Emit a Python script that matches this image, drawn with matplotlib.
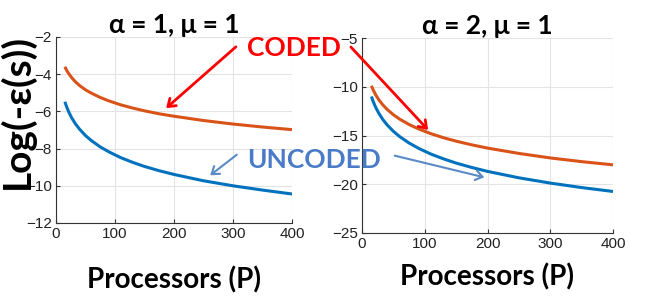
import numpy as np
import matplotlib.pyplot as plt
from matplotlib.patches import FancyArrowPatch

# processors
P = [15, 18, 22, 27, 33, 40, 50, 60, 75, 90, 110, 130, 150, 175, 200, 250, 300, 350, 400]

# alpha = 1, mu = 1
coded_a1 = [-3.60, -3.79, -3.99, -4.20, -4.41, -4.61, -4.84, -5.02, -5.25, -5.44,
            -5.65, -5.82, -5.97, -6.13, -6.26, -6.49, -6.68, -6.84, -6.98]
uncoded_a1 = [-5.48, -5.75, -6.06, -6.37, -6.67, -6.96, -7.30, -7.57, -7.91, -8.18,
              -8.49, -8.74, -8.96, -9.19, -9.39, -9.73, -10.00, -10.23, -10.44]

# alpha = 2, mu = 1
coded_a2 = [-9.90, -10.35, -10.85, -11.35, -11.85, -12.32, -12.87, -13.32, -13.87, -14.32,
            -14.82, -15.23, -15.58, -15.96, -16.29, -16.84, -17.30, -17.68, -18.01]
uncoded_a2 = [-11.00, -11.54, -12.14, -12.74, -13.34, -13.91, -14.57, -15.11, -15.77, -16.31,
              -16.91, -17.40, -17.83, -18.28, -18.68, -19.34, -19.88, -20.34, -20.74]

titles = ['α = 1, μ = 1', 'α = 2, μ = 1']
yticks = [np.arange(-12, -1, 2), np.arange(-25, -4, 5)]

RED = '#D95319'
BLUE = '#0072BD'
W, H = 653, 302

fig = plt.figure(figsize=(6.53, 3.02), dpi=100)
ax1 = fig.add_axes([56 / W, 1 - 223 / H, 236 / W, 186 / H])
ax2 = fig.add_axes([362 / W, 1 - 233 / H, 251 / W, 195 / H])

for ax, c, u, t, yt in [(ax1, coded_a1, uncoded_a1, titles[0], yticks[0]),
                        (ax2, coded_a2, uncoded_a2, titles[1], yticks[1])]:
    ax.plot(P, c, color=RED, lw=2.2, solid_capstyle='butt')
    ax.plot(P, u, color=BLUE, lw=2.2, solid_capstyle='butt')
    ax.set_xlim(0, 400)
    ax.set_ylim(yt[0], yt[-1])
    ax.set_xticks([0, 100, 200, 300, 400])
    ax.set_yticks(yt)
    ax.grid(True, color='#e3e3e3', lw=0.8)
    ax.set_axisbelow(True)
    for s in ['top', 'right']:
        ax.spines[s].set_visible(False)
    for s in ['left', 'bottom']:
        ax.spines[s].set_color('#333333')
        ax.spines[s].set_linewidth(0.8)
    ax.tick_params(direction='in', length=3, color='#333333', labelcolor='#222222', labelsize=11, pad=3)
    for lab in ax.get_xticklabels() + ax.get_yticklabels():
        lab.set_family('Liberation Sans')
    ax.set_title(t, fontsize=19, fontweight='bold', family='Lato', pad=2)

ax1.set_xlabel('Processors (P)', fontsize=20, fontweight='bold', family='Lato', labelpad=18)
ax2.set_xlabel('Processors (P)', fontsize=20, fontweight='bold', family='Lato', labelpad=9)
ax1.set_ylabel('Log(-ε(s))', fontsize=28, fontweight='bold', family='Lato')
ax1.yaxis.set_label_coords(-0.09, 0.6)

def px(x, y):
    return (x / W, 1 - y / H)

fig.text(*px(247, 48), 'CODED', color='#FF0000', fontsize=19, fontweight='bold',
         family='Lato', va='center', ha='left')
fig.text(*px(247, 160), 'UNCODED', color='#4A7BC8', fontsize=19, fontweight='bold',
         family='Lato', va='center', ha='left')

arrows = [((238, 45), (164, 110), '#FF0000', 2.0),
          ((349, 45), (430, 132), '#FF0000', 2.0),
          ((239, 153), (208, 177), '#5A8AC6', 1.5),
          ((392, 155), (487, 178), '#5A8AC6', 1.5)]
for (x0, y0), (x1, y1), col, lw in arrows:
    fig.add_artist(FancyArrowPatch(px(x0, y0), px(x1, y1), transform=fig.transFigure,
                                   arrowstyle='->,head_length=5,head_width=3.5',
                                   color=col, lw=lw, mutation_scale=1))

fig.savefig('out.png', dpi=100)
